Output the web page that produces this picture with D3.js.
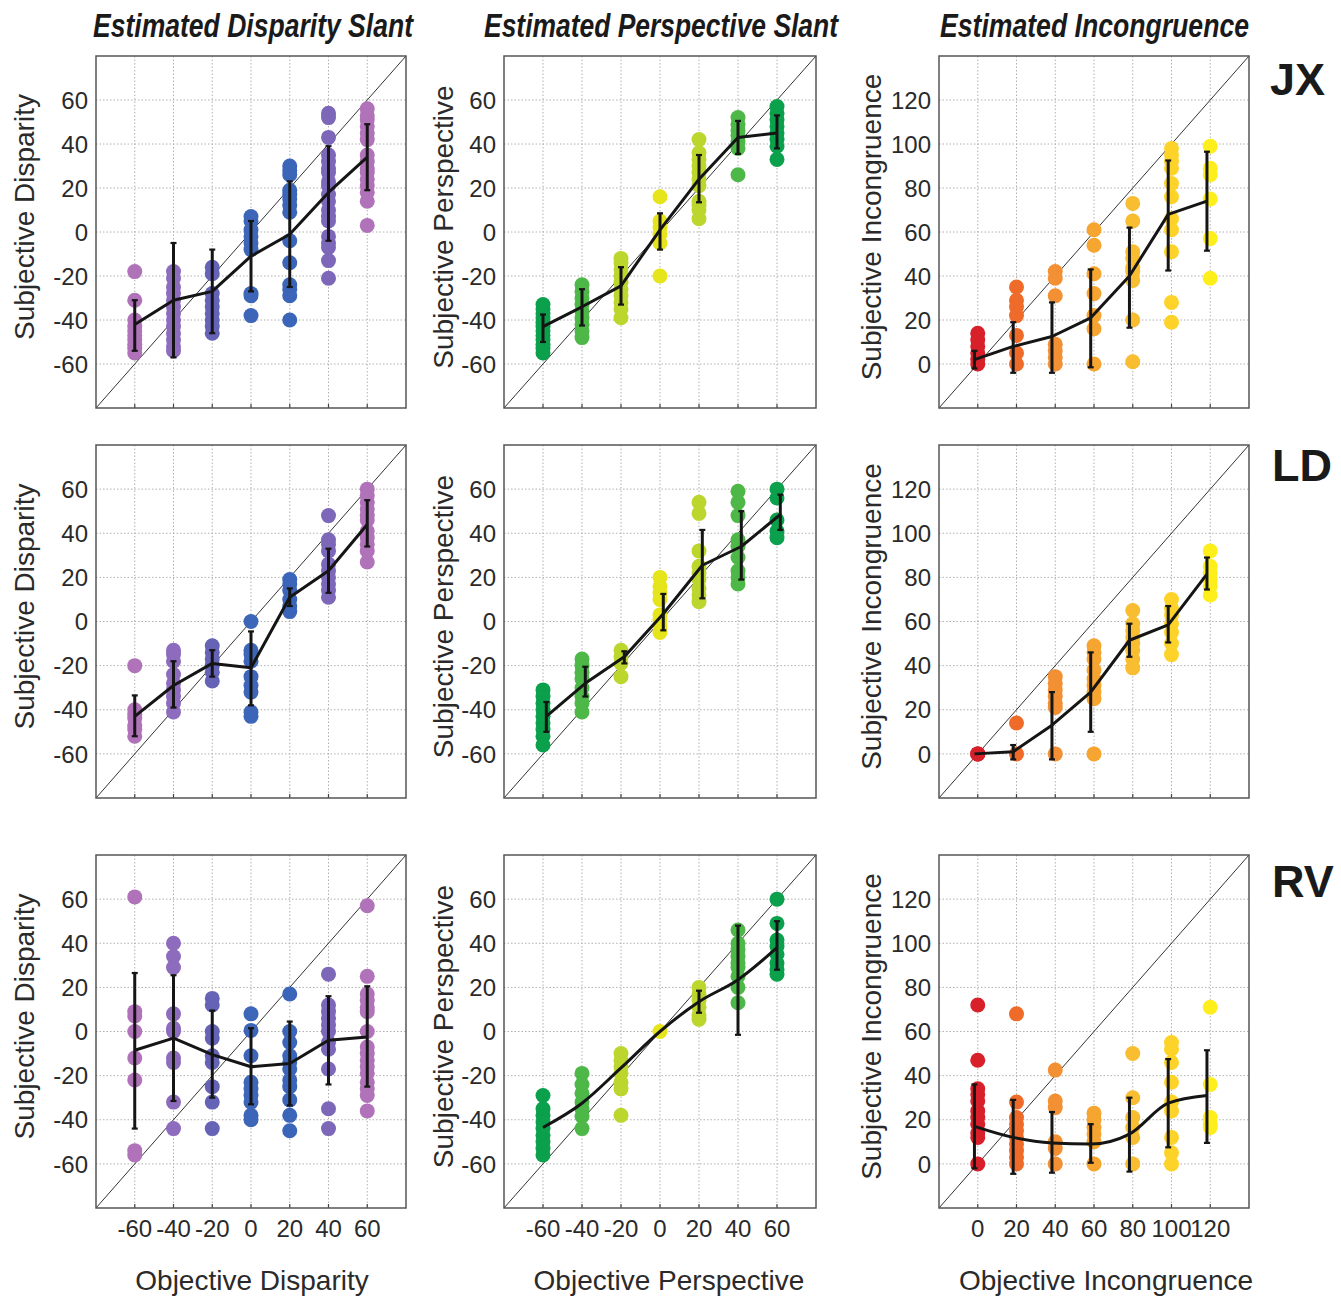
<!DOCTYPE html>
<html><head><meta charset="utf-8">
<script src="https://cdn.jsdelivr.net/npm/d3@7"></script>
<style>
html,body{margin:0;padding:0;background:#fff;}
svg{display:block;font-family:"Liberation Sans",Arial,sans-serif;}
</style></head>
<body><svg id="chart" width="1341" height="1296"></svg>
<script>
// ---------- categories & tick labels ----------
const slantLevels = [-60,-40,-20,0,20,40,60];
const incLevels = [0,20,40,60,80,100,120];
const slantTicks = [-60,-40,-20,0,20,40,60];
const incTicks = [0,20,40,60,80,100,120];
const subjects = ["JX","LD","RV"];
const columnTitles = ["Estimated Disparity Slant","Estimated Perspective Slant","Estimated Incongruence"];
const yTitles = ["Subjective Disparity","Subjective Perspective","Subjective Incongruence"];
const xTitles = ["Objective Disparity","Objective Perspective","Objective Incongruence"];
const dispColors = ["#b072b8","#8d6bbd","#6563b6","#3d66b8","#3b65b8","#7c67b8","#b072b8"];
const perspColors = ["#0ba04c","#4db848","#bdd62e","#e6e41a","#bdd62e","#4db848","#0ba04c"];
const incColors = ["#d7202a","#ee6b2a","#f39033","#f5a530","#f8bd30","#fdd32a","#fdee1c"];

// ---------- JX ----------
const jxDispPts = [
 [-18,-31,-40,-43,-45,-47,-49,-51,-53,-55],
 [-18,-21,-25,-28,-31,-34,-37,-40,-43,-46,-49,-52,-54],
 [-16,-19,-28,-31,-34,-37,-40,-43,-46],
 [7,5,1,-2,-5,-8,-28,-29,-38],
 [30,28,26,19,17,15,12,9,-4,-14,-24,-26,-29,-40],
 [54,52,43,35,32,29,27,23,21,17,14,10,7,5,-2,-5,-7,-13,-21],
 [56,53,51,48,45,42,35,32,29,27,24,21,18,14,3]];
const jxDispMean = [-42,-31,-27,-11,-1,18,34];
const jxDispLo = [-54,-57,-46,-27,-25,-4,19];
const jxDispHi = [-31,-5,-8,5,23,39,49];

const jxPerspPts = [
 [-33,-35,-37,-39,-41,-43,-45,-47,-49,-51,-53,-55],
 [-24,-27,-30,-33,-36,-39,-42,-45,-48],
 [-12,-14,-17,-20,-23,-26,-29,-32,-35,-39],
 [16,5,2,-1,-5,-20],
 [42,36,33,30,27,24,21,14,12,10,6],
 [52,49,46,44,41,38,26],
 [57,54,51,48,45,42,39,33]];
const jxPerspMean = [-43,-34,-24.5,1,24,43,45];
const jxPerspLo = [-50,-42.5,-33,-8,13.5,35.5,38];
const jxPerspHi = [-37.5,-26,-16,8.5,35,50.5,53];

const jxIncPts = [
 [14,11,8,5,2,0],
 [35,29,26,22,13,5,0],
 [42,39,31,9,6,3,0],
 [61,54,41,32,22,16,0],
 [73,65,51,48,44,42,38,20,1],
 [98,95,92,89,82,76,66,61,51,28,19],
 [99,89,86,75,57,39]];
const jxIncMean = [2,8,12.5,21,40,68,74];
const jxIncLo = [-2,-4,-4,-1.5,16.5,42.5,51.5];
const jxIncHi = [6,19,28,43,62,92.5,96.5];

// ---------- LD ----------
const ldDispPts = [
 [-20,-40,-42,-44,-47,-49,-52],
 [-13,-15,-18,-24,-28,-31,-34,-37,-41],
 [-11,-14,-17,-20,-23,-27],
 [0,-13,-15,-18,-25,-29,-32,-41,-43],
 [19,17,14,10,7,4.5],
 [48,37,35,32,26,23,20,17,14,11],
 [60,57,54,51,48,46,41,38,35,32,27]];
const ldDispMean = [-43,-29,-19,-21,11,23,44];
const ldDispLo = [-52,-39,-25,-38,7,13,34];
const ldDispHi = [-33.5,-18,-13,-4.5,15,33,55];

const ldPerspPts = [
 [-31,-34,-37,-40,-43,-46,-49,-52,-56],
 [-17,-20,-23,-26,-30,-34,-37,-41],
 [-13,-16,-19,-25],
 [20,16,13,10,3,1,-2,-5],
 [54,49,32,25,22,19,15,12,9],
 [59,54,48,37,34,29,23,20,17],
 [60,56,46,41,38]];
const ldPerspMean = [-43,-28,-16,3.5,25.5,34,48.5];
const ldPerspLo = [-50,-34,-19,-4,10.5,19,41.5];
const ldPerspHi = [-36.5,-20.5,-13.5,12.5,41.5,50,57.5];

const ldIncPts = [
 [0,0,0],
 [14,0],
 [35,32,29,26,23,21,0],
 [49,46,43,38,34,31,28,25,0],
 [65,59,56,53,50,47,43,39],
 [70,66,63,59,55,50,45],
 [92,85,82,79,76,72]];
const ldIncMean = [0,1,13,28,51.5,58.5,81.5];
const ldIncLo = [0,-2.5,-2.5,10,44,50.5,74.5];
const ldIncHi = [0,4,28,46,59,67,89];

// ---------- RV ----------
const rvDispPts = [
 [61,9,7,0,-12,-22,-54,-56],
 [40,34,29,8,1.5,0,-12,-14,-32,-44],
 [15,12,0,-3,-11,-14,-25,-32,-44],
 [8,0.5,-11,-23,-26,-29,-32,-38,-40],
 [17,0,-5,-11,-14,-17,-22,-25,-31,-38,-45],
 [26,12,9,6,3,0,-5,-8,-17,-35,-44],
 [57,25,17,14,11,9,0,-7,-10,-13,-16,-19,-23,-26,-29,-36]];
const rvDispMean = [-8.5,-3,-10.5,-16,-14.5,-4,-2.5];
const rvDispLo = [-44,-31.5,-30,-33,-33.5,-24,-25];
const rvDispHi = [26.5,25.5,9.5,1.5,4.5,16,20.5];

const rvPerspPts = [
 [-29,-35,-38,-41,-44,-47,-50,-53,-56],
 [-19,-24,-28,-32,-35,-38.5,-44],
 [-10,-13,-16,-19,-23,-26,-38],
 [0],
 [20,17,14,11,7.5,5.5],
 [46,40,37,34,31,29,25,20,13],
 [60,49,41.5,38.5,35,31,28,26]];
const rvPerspMean = [-43.5,-32.5,-16.5,0,13.5,23.5,38];
const rvPerspLo = [-43.5,-32.5,-16.5,0,8.5,-1.5,28];
const rvPerspHi = [-43.5,-32.5,-16.5,0,18.5,48,50];

const rvIncPts = [
 [72,47,34,31.5,28.5,24,21,18,14,12,0],
 [68,28,21,18,15,12,9,6,3,0],
 [42.5,28.5,25.5,10,7,0],
 [23,20,16.5,13.5,10,0],
 [50,30,21,16.5,12,0],
 [55,52,46,37,28,24,12,5,0],
 [71,36,21,18,16.5]];
const rvIncMean = [17,12,9.5,9,13.5,27.5,31];
const rvIncLo = [-2,-4.5,-4,0.5,-3.5,7.5,9.5];
const rvIncHi = [36,29,23.5,18,30,47.5,51.5];

// objective value at which the mean/error bars are drawn (offset from level), per panel
const meanOffsets = [[0,0,-1.7],[0,1.7,-1.7],[0,0,-1.7]];

// ---------- layout ----------
const colX = [[96,406],[504,816],[939,1249]];
const rowY = [[56,408],[445,798],[855,1208]];
const yTitleX = [24,443,871];
const yTitleDy = [-15,-5,-5];
const xTitleX = [252,669,1106];
const titleSpec = [[253,320],[661,354],[1094.5,309]];
const subjLabelPos = [[1270,95],[1272,481],[1272,897]];

const panelData = [
 [[jxDispPts,jxDispMean,jxDispLo,jxDispHi],[jxPerspPts,jxPerspMean,jxPerspLo,jxPerspHi],[jxIncPts,jxIncMean,jxIncLo,jxIncHi]],
 [[ldDispPts,ldDispMean,ldDispLo,ldDispHi],[ldPerspPts,ldPerspMean,ldPerspLo,ldPerspHi],[ldIncPts,ldIncMean,ldIncLo,ldIncHi]],
 [[rvDispPts,rvDispMean,rvDispLo,rvDispHi],[rvPerspPts,rvPerspMean,rvPerspLo,rvPerspHi],[rvIncPts,rvIncMean,rvIncLo,rvIncHi]]
];
const colLevels = [slantLevels, slantLevels, incLevels];
const colTicks = [slantTicks, slantTicks, incTicks];
const colDomains = [[-80,80],[-80,80],[-20,140]];
const colColors = [dispColors, perspColors, incColors];

const svg = d3.select("#chart");

// column titles
columnTitles.forEach((t,i)=>{
  svg.append("text").attr("x",titleSpec[i][0]).attr("y",37)
    .attr("text-anchor","middle").attr("font-size",33).attr("font-weight","bold")
    .attr("font-style","italic").attr("fill","#1a1a1a")
    .attr("textLength",titleSpec[i][1]).attr("lengthAdjust","spacingAndGlyphs")
    .text(t);
});
// subject labels
subjects.forEach((s,i)=>{
  svg.append("text").attr("x",subjLabelPos[i][0]).attr("y",subjLabelPos[i][1])
    .attr("font-size",45).attr("font-weight","bold").attr("fill","#1a1a1a").text(s);
});

for(let r=0;r<3;r++){
  for(let c=0;c<3;c++){
    const [pts,mean,lo,hi] = panelData[r][c];
    const levels = colLevels[c], ticks = colTicks[c], dom = colDomains[c], colors = colColors[c];
    const [x0,x1] = colX[c], [y0,y1] = rowY[r];
    const x = d3.scaleLinear().domain(dom).range([x0,x1]);
    const y = d3.scaleLinear().domain(dom).range([y1,y0]);
    const g = svg.append("g");
    const clipId = `clip-${r}-${c}`;
    svg.append("clipPath").attr("id",clipId).append("rect")
      .attr("x",x0).attr("y",y0).attr("width",x1-x0).attr("height",y1-y0);

    // grid
    const grid = g.append("g").attr("stroke","#b0b0b0").attr("stroke-width",1).attr("stroke-dasharray","1.5,2");
    ticks.forEach(t=>{
      grid.append("line").attr("x1",x(t)).attr("x2",x(t)).attr("y1",y0).attr("y2",y1);
      grid.append("line").attr("y1",y(t)).attr("y2",y(t)).attr("x1",x0).attr("x2",x1);
    });
    // bottom inward ticks
    ticks.forEach(t=>{
      g.append("line").attr("x1",x(t)).attr("x2",x(t)).attr("y1",y1).attr("y2",y1-4)
        .attr("stroke","#444").attr("stroke-width",1.2);
    });
    // identity diagonal
    g.append("line").attr("x1",x(dom[0])).attr("y1",y(dom[0])).attr("x2",x(dom[1])).attr("y2",y(dom[1]))
      .attr("stroke","#333").attr("stroke-width",1);

    // dots
    const dotG = g.append("g").attr("clip-path",`url(#${clipId})`);
    pts.forEach((arr,i)=>{
      dotG.selectAll(null).data(arr).enter().append("circle")
        .attr("cx",x(levels[i])).attr("cy",d=>y(d)).attr("r",7.5)
        .attr("fill",colors[i]);
    });

    // mean line
    const off = meanOffsets[r][c];
    const meanPts = mean.map((m,i)=>[levels[i]+off, m]);
    const curve = (r===2 && c>0) ? d3.curveMonotoneX : d3.curveLinear;
    g.append("path").datum(meanPts)
      .attr("d", d3.line().x(d=>x(d[0])).y(d=>y(d[1])).curve(curve))
      .attr("fill","none").attr("stroke","#151515").attr("stroke-width",3).attr("stroke-linejoin","round");
    // error bars
    const eb = g.append("g").attr("stroke","#151515");
    mean.forEach((m,i)=>{
      if(hi[i]===lo[i]) return;
      const xx = x(levels[i]+off);
      eb.append("line").attr("x1",xx).attr("x2",xx).attr("y1",y(lo[i])).attr("y2",y(hi[i])).attr("stroke-width",3);
      [lo[i],hi[i]].forEach(v=>{
        eb.append("line").attr("x1",xx-3).attr("x2",xx+3).attr("y1",y(v)).attr("y2",y(v)).attr("stroke-width",2.2);
      });
    });

    // frame
    g.append("rect").attr("x",x0).attr("y",y0).attr("width",x1-x0).attr("height",y1-y0)
      .attr("fill","none").attr("stroke","#555").attr("stroke-width",1.5);

    // y tick labels
    ticks.forEach(t=>{
      g.append("text").attr("x",x0-8).attr("y",y(t)).attr("dy","0.36em")
        .attr("text-anchor","end").attr("font-size",24).attr("fill","#2a2a2a").text(t);
    });
    // y title
    const cy = (y0+y1)/2 + yTitleDy[c];
    g.append("text").attr("transform",`translate(${yTitleX[c]},${cy}) rotate(-90)`)
      .attr("dy","0.35em").attr("text-anchor","middle").attr("font-size",28).attr("fill","#2a2a2a")
      .text(yTitles[r===0?c:c]);

    if(r===2){
      ticks.forEach(t=>{
        g.append("text").attr("x",x(t)).attr("y",1237).attr("text-anchor","middle")
          .attr("font-size",24).attr("fill","#2a2a2a").text(t);
      });
      g.append("text").attr("x",xTitleX[c]).attr("y",1290).attr("text-anchor","middle")
        .attr("font-size",28).attr("fill","#2a2a2a").text(xTitles[c]);
    }
  }
}
</script></body></html>
